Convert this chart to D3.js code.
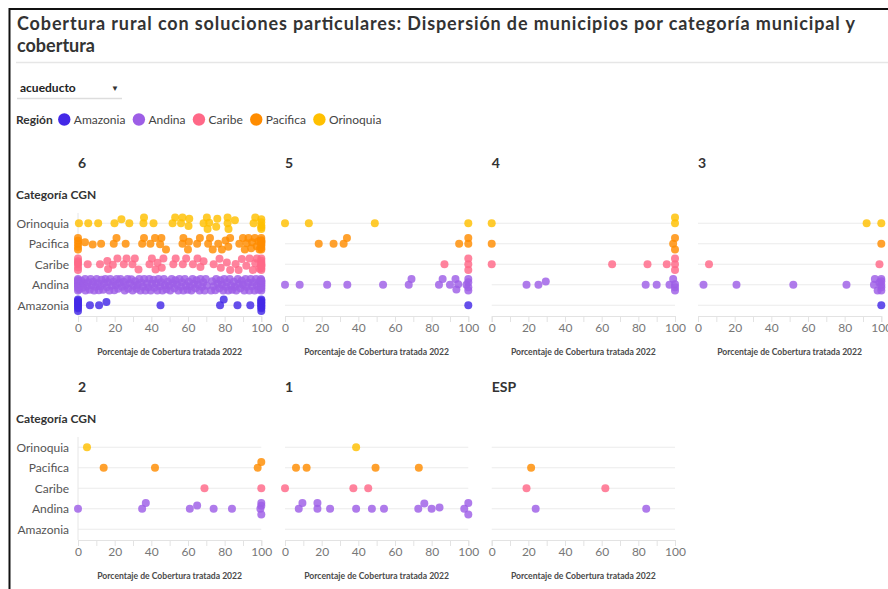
<!DOCTYPE html>
<html>
<head>
<meta charset="utf-8">
<script src="https://cdn.jsdelivr.net/npm/d3@7"></script>
<style>
  body { margin: 0; background: #fff; }
  svg { display: block; font-family: Lato, "Open Sans", sans-serif; }
</style>
</head>
<body>
<svg id="chart" width="888" height="589"></svg>
<script>
// ---- Data -------------------------------------------------------------
const regions = ["Amazonia", "Andina", "Caribe", "Pacifica", "Orinoquia"];
const regionColors = ["#4328e7", "#9d5ee6", "#ff6887", "#ff8c00", "#ffc000"];
const rowOrder = ["Orinoquia", "Pacifica", "Caribe", "Andina", "Amazonia"];
const categories = ["6", "5", "4", "3", "2", "1", "ESP"];
const xTicks = [0, 20, 40, 60, 80, 100];
const titleText = ["Cobertura rural con soluciones particulares: Dispersión de municipios por categoría municipal y", "cobertura"];
const selectorText = "acueducto";
const legendTitle = "Región";
const yTitle = "Categoría CGN";
const xTitle = "Porcentaje de Cobertura tratada 2022";

// Coverage (%) per municipality, by CGN category and region
const c6Orinoquia = [0.5, 5.6, 11, 19.9, 23.7, 28, 35.7, 36, 41.2, 51.6, 53, 56.2, 57, 60.3, 60.7, 68.5, 70.3, 70.7, 71.6, 75.4, 76, 81.6, 81.6, 82.1, 85.6, 95.8, 96.7, 100, 100, 100, 100, 100];
const c6Pacifica = [0, 0, 0, 0, 0, 3.8, 8, 12.6, 19.5, 21, 26, 35, 36, 39.5, 42, 44.8, 45.5, 48, 57, 57.5, 60, 60.5, 65, 66.5, 71, 72, 73.5, 76.5, 78.5, 80.5, 82, 83, 88, 90, 91, 92, 93, 94.5, 95, 96.5, 97.5, 98.5, 99, 100, 100, 100, 100, 100, 100, 100, 100];
const c6Caribe = [0, 0, 0, 0, 0, 0, 5.3, 12, 16, 16.4, 19, 21.5, 25, 26.5, 29.7, 31, 33, 39, 40.3, 42.3, 43.4, 45.7, 46.6, 52, 53.3, 57.2, 59, 62.7, 65.2, 66.8, 68.5, 74, 77.2, 77.9, 81.2, 83, 86, 87.6, 89.4, 91.8, 93.6, 95.4, 96.7, 97.6, 99, 100, 100, 100, 100, 100, 100, 100, 100];
const c6Andina = [0, 0, 0, 0, 0, 0, 0, 0, 0.6, 1.3, 1.8, 2.7, 3.2, 3.9, 4.1, 5.0, 5.6, 6.4, 6.9, 7.5, 8.3, 8.8, 9.6, 10.2, 10.9, 11.4, 12.3, 12.8, 13.7, 14.2, 14.9, 15.8, 16.3, 17.1, 17.6, 18.4, 19.3, 19.8, 20.6, 21.1, 21.9, 22.7, 23.2, 24.0, 24.9, 25.5, 26.1, 27.0, 27.4, 28.3, 29.1, 29.8, 30.4, 31.2, 31.9, 32.5, 33.4, 34.0, 34.6, 35.5, 36.1, 36.8, 37.6, 38.3, 38.9, 39.7, 40.4, 41.2, 41.7, 42.6, 43.3, 43.9, 44.8, 45.3, 46.1, 46.9, 47.4, 48.2, 49.0, 49.7, 50.3, 51.1, 51.8, 52.6, 53.1, 54.0, 54.7, 55.3, 56.2, 56.8, 57.5, 58.3, 58.9, 59.8, 60.4, 61.0, 61.9, 62.5, 63.2, 64.1, 64.6, 65.4, 66.3, 66.8, 67.6, 68.4, 69.1, 69.7, 70.3, 72.6, 73.2, 74.0, 74.9, 75.4, 76.2, 77.1, 77.6, 78.5, 79.2, 79.8, 80.7, 81.3, 82.0, 82.8, 83.5, 84.1, 85.0, 85.6, 86.3, 87.2, 87.7, 88.6, 89.3, 89.9, 90.7, 91.4, 92.0, 92.9, 93.5, 94.2, 95.0, 95.6, 96.3, 97.1, 97.6, 98.4, 98.9, 99.4, 99.8, 100, 100, 100, 100, 100, 100, 100, 100];
const c6Amazonia = [0, 0, 0, 0, 0, 0, 0, 0, 6.5, 11.5, 15.5, 45, 77.5, 79.5, 87, 94, 100, 100, 100, 100, 100, 100, 100, 100];

const c5Orinoquia = [0, 13, 49, 100];
const c5Pacifica = [18.4, 26.5, 32, 33.8, 95, 100, 100];
const c5Caribe = [87, 100, 100, 100];
const c5Andina = [0, 8, 23, 34, 53.5, 67.5, 69, 84, 86, 90, 93, 93.5, 94.5, 99, 100, 100, 100, 100];
const c5Amazonia = [100];

const c4Orinoquia = [0, 100, 100];
const c4Pacifica = [0, 99, 100, 100];
const c4Caribe = [0, 65.7, 85, 95.5, 100, 100, 100];
const c4Andina = [19, 25.5, 29.5, 84, 90, 97, 99, 100, 100, 100];
const c4Amazonia = [];

const c3Orinoquia = [92, 100];
const c3Pacifica = [100];
const c3Caribe = [6, 99];
const c3Andina = [3, 21, 52, 81, 96, 96.5, 98, 99, 100, 100, 100, 100, 100];
const c3Amazonia = [100];

const c2Orinoquia = [4.9];
const c2Pacifica = [14, 42, 98, 100];
const c2Caribe = [69, 100];
const c2Andina = [0, 35, 37, 61, 65, 74, 84, 99.5, 100, 100, 100];
const c2Amazonia = [];

const c1Orinoquia = [38.8];
const c1Pacifica = [6, 11.8, 49.4, 73];
const c1Caribe = [0, 37.3, 45.4];
const c1Andina = [7.5, 9.5, 17.7, 17.7, 24.6, 38.8, 47.4, 54, 72.7, 76, 80, 84.3, 97.8, 100, 100];
const c1Amazonia = [];

const cEspOrinoquia = [];
const cEspPacifica = [21.5];
const cEspCaribe = [19, 62];
const cEspAndina = [24, 84.3];
const cEspAmazonia = [];

const seriesByCategory = {
  "6":   { Orinoquia: c6Orinoquia, Pacifica: c6Pacifica, Caribe: c6Caribe, Andina: c6Andina, Amazonia: c6Amazonia },
  "5":   { Orinoquia: c5Orinoquia, Pacifica: c5Pacifica, Caribe: c5Caribe, Andina: c5Andina, Amazonia: c5Amazonia },
  "4":   { Orinoquia: c4Orinoquia, Pacifica: c4Pacifica, Caribe: c4Caribe, Andina: c4Andina, Amazonia: c4Amazonia },
  "3":   { Orinoquia: c3Orinoquia, Pacifica: c3Pacifica, Caribe: c3Caribe, Andina: c3Andina, Amazonia: c3Amazonia },
  "2":   { Orinoquia: c2Orinoquia, Pacifica: c2Pacifica, Caribe: c2Caribe, Andina: c2Andina, Amazonia: c2Amazonia },
  "1":   { Orinoquia: c1Orinoquia, Pacifica: c1Pacifica, Caribe: c1Caribe, Andina: c1Andina, Amazonia: c1Amazonia },
  "ESP": { Orinoquia: cEspOrinoquia, Pacifica: cEspPacifica, Caribe: cEspCaribe, Andina: cEspAndina, Amazonia: cEspAmazonia }
};

// ---- Layout -----------------------------------------------------------
const W = 888, H = 589;
const svg = d3.select("#chart");
const color = d3.scaleOrdinal().domain(regions).range(regionColors);

const R = 4;            // dot radius
const SPREAD = 5.7;     // max vertical displacement inside a row
const plotW = 183.3;
const colX = [78, 285, 491.7, 698];
const rowTop = [213, 437];
const bandH = 102.5;

svg.append("rect").attr("width", W).attr("height", H).attr("fill", "#fff");

// frame
svg.append("line").attr("x1", 9).attr("x2", W).attr("y1", 9).attr("y2", 9)
  .attr("stroke", "#111").attr("stroke-width", 2);
svg.append("line").attr("x1", 9.5).attr("x2", 9.5).attr("y1", 8).attr("y2", H)
  .attr("stroke", "#111").attr("stroke-width", 2);

// title (first line stretched to the header width)
const title = svg.append("text").attr("fill", "#333")
  .attr("font-weight", 700).attr("font-size", 18);
title.append("tspan").attr("x", 17).attr("y", 29.5)
  .attr("textLength", 838).attr("lengthAdjust", "spacing").text(titleText[0]);
title.append("tspan").attr("x", 17).attr("y", 51.5).text(titleText[1]);
svg.append("line").attr("x1", 16).attr("x2", W).attr("y1", 62.5).attr("y2", 62.5)
  .attr("stroke", "#e6e6e6").attr("stroke-width", 1.5);

// selector
svg.append("text").attr("x", 20).attr("y", 92).attr("font-size", 12).attr("font-weight", 700)
  .attr("fill", "#222").text(selectorText);
svg.append("text").attr("x", 115).attr("y", 91).attr("font-size", 8).attr("fill", "#333")
  .attr("text-anchor", "middle").text("▼");
svg.append("line").attr("x1", 17).attr("x2", 122).attr("y1", 98.5).attr("y2", 98.5)
  .attr("stroke", "#ddd").attr("stroke-width", 1.5);

// legend
const legend = svg.append("g").attr("transform", "translate(16,119.5)");
const lt = legend.append("text").attr("x", 0).attr("y", 4).attr("font-size", 12)
  .attr("font-weight", 700).attr("fill", "#333").text(legendTitle);
let lx = lt.node().getComputedTextLength() + 5;
regions.forEach(r => {
  legend.append("circle").attr("cx", lx + 6.5).attr("cy", 0).attr("r", 6.2).attr("fill", color(r));
  const t = legend.append("text").attr("x", lx + 16).attr("y", 4).attr("font-size", 12)
    .attr("fill", "#444").text(r);
  lx += 16 + t.node().getComputedTextLength() + 7;
});

// beeswarm placement: nearest free offset to the row line, limited to the row band
function swarm(values, x) {
  const sorted = values.slice().sort((a, b) => a - b);
  const placed = [];
  const dd = 4 * R * R - 0.01;
  const grid = [0];
  for (let c = 0.5; c < SPREAD; c += 0.5) grid.push(-c, c);
  grid.push(-SPREAD, SPREAD);
  for (const v of sorted) {
    const px = x(v);
    const near = placed.filter(p => Math.abs(p.x - px) < 2 * R);
    const cands = [0];
    near.forEach(p => {
      const dy = Math.sqrt(4 * R * R - (p.x - px) ** 2);
      cands.push(p.dy - dy, p.dy + dy);
    });
    cands.sort((a, b) => Math.abs(a) - Math.abs(b) || a - b);
    let best = null;
    for (const c of cands) {
      if (Math.abs(c) <= SPREAD + 1e-6 && near.every(p => (p.x - px) ** 2 + (p.dy - c) ** 2 >= dd)) { best = c; break; }
    }
    if (best === null) {
      let score = -1;
      for (const c of grid) {
        const m = d3.min(near, p => (p.x - px) ** 2 + (p.dy - c) ** 2);
        if (m > score + 1e-6) { score = m; best = c; }
      }
    }
    placed.push({ v, x: px, dy: best });
  }
  return placed;
}

// panels
categories.forEach((cat, i) => {
  const col = i % 4, row = Math.floor(i / 4);
  const x0 = colX[col], top = rowTop[row];
  const x = d3.scaleLinear().domain([0, 100]).range([x0, x0 + plotW]);
  const y = d3.scalePoint().domain(rowOrder).range([top, top + bandH]).padding(0.5);
  const axisY = top + bandH + 0.5;
  const g = svg.append("g");

  // panel title
  g.append("text").attr("x", x0).attr("y", top - 45).attr("font-size", 14).attr("font-weight", 700)
    .attr("fill", "#333").text(cat);

  // gridlines
  g.selectAll("line.grid").data(rowOrder).join("line").attr("class", "grid")
    .attr("x1", x0).attr("x2", x0 + plotW)
    .attr("y1", d => y(d)).attr("y2", d => y(d))
    .attr("stroke", "#ebebeb").attr("stroke-width", 1.2);

  if (col === 0) {
    g.append("text").attr("x", 16).attr("y", top - 14).attr("font-size", 12).attr("font-weight", 700)
      .attr("fill", "#333").text(yTitle);
    g.append("line").attr("x1", x0).attr("x2", x0).attr("y1", top).attr("y2", axisY)
      .attr("stroke", "#e6e6e6");
    g.selectAll("text.rowlab").data(rowOrder).join("text").attr("class", "rowlab")
      .attr("x", 69).attr("y", d => y(d)).attr("dy", "0.36em")
      .attr("text-anchor", "end").attr("font-size", 12).attr("fill", "#555").text(d => d);
  }

  // x axis
  const ax = g.append("g").attr("transform", `translate(0,${axisY})`)
    .call(d3.axisBottom(x).tickValues(d3.range(0, 101, 10)).tickSize(6).tickPadding(1)
      .tickFormat(d => xTicks.includes(d) ? d : ""));
  ax.select(".domain").attr("stroke", "#e3e3e3");
  ax.selectAll(".tick line").attr("stroke", "#e3e3e3");
  ax.selectAll(".tick text").attr("font-size", 12).attr("fill", "#777")
    .attr("font-family", "Lato, 'Open Sans', sans-serif");

  g.append("text").attr("x", x0 + plotW / 2).attr("y", axisY + 39).attr("text-anchor", "middle")
    .attr("font-size", 8.6).attr("font-weight", 700).attr("fill", "#4a4a4a").text(xTitle);

  // dots
  rowOrder.slice().reverse().forEach(reg => {
    const pts = swarm(seriesByCategory[cat][reg], x);
    g.append("g").selectAll("circle").data(pts).join("circle")
      .attr("cx", d => d.x).attr("cy", d => y(reg) + d.dy).attr("r", R)
      .attr("fill", color(reg)).attr("fill-opacity", 0.82);
  });
});
</script>
</body>
</html>
